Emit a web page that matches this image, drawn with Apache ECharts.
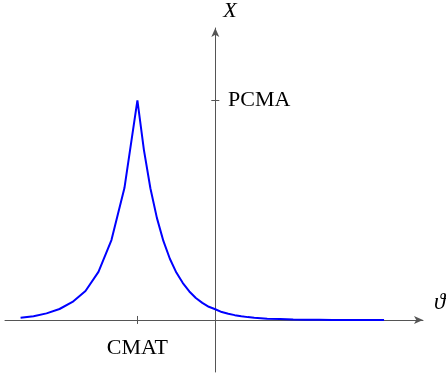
<!DOCTYPE html>
<html>
<head>
<meta charset="utf-8">
<script src="https://cdn.jsdelivr.net/npm/echarts@6/dist/echarts.min.js"></script>
<style>
  html, body { margin: 0; padding: 0; background: #fff; }
  #chart { width: 446px; height: 378px; }
</style>
</head>
<body>
<div id="chart"></div>
<script>
// Sampled curve X(θ): coarse steps on the rising flank, finer on the falling flank
const thetaLeft = [-15, -14, -13, -12, -11, -10, -9, -8, -7, -6];
const xLeft = [0.010, 0.017, 0.030, 0.050, 0.082, 0.132, 0.219, 0.364, 0.601, 1.000];

const thetaRight = [-5.5, -5, -4.5, -4, -3.5, -3, -2.5, -2, -1.5, -1, -0.5, 0, 0.5, 1, 1.5, 2, 2.5, 3,
                    4, 5, 6, 7, 8, 9, 10, 11, 12, 13];
const xRight = [0.775, 0.600, 0.465, 0.360, 0.279, 0.216, 0.168, 0.130, 0.100, 0.078, 0.060, 0.049,
                0.036, 0.028, 0.022, 0.017, 0.013, 0.010, 0.006, 0.004, 0.002, 0.001, 0.001, 0.000,
                0.000, 0.000, 0.000, 0.000];

// Marked positions on the axes and their labels
const xTickValues = [-6];
const xTickLabels = ['CMAT'];
const yTickValues = [1];
const yTickLabels = ['PCMA'];

const xRange = [-16.2, 16];
const yRange = [-0.237, 1.33];

const serif = '"Liberation Serif", "DejaVu Serif", serif';
const axisColor = '#555';

const curve = thetaLeft.map((t, i) => [t, xLeft[i]])
  .concat(thetaRight.map((t, i) => [t, xRight[i]]));

const chart = echarts.init(document.getElementById('chart'), null, { renderer: 'canvas' });

// Axes cross at the origin; tick labels are anchored at the grid edge,
// so their margins pull them back next to the zero lines.
chart.setOption({
  animation: false,
  grid: { left: 5, right: 23, top: 28, bottom: 6, containLabel: false, outerBoundsMode: 'none' },
  xAxis: [
    {
      type: 'value', position: 'bottom', min: xRange[0], max: xRange[1],
      splitLine: { show: false },
      axisLine: { onZero: true, symbol: ['none', 'arrow'], symbolSize: [6, 9],
                  lineStyle: { color: axisColor, width: 1 } },
      axisTick: { show: true, inside: false, length: 4, customValues: xTickValues,
                  lineStyle: { color: axisColor } },
      axisLabel: { show: true, customValues: xTickValues, margin: -35,
                   formatter: v => xTickLabels[xTickValues.indexOf(Number(v))] || '',
                   fontFamily: serif, fontSize: 22, color: '#000' },
      name: 'ϑ', nameLocation: 'end', nameGap: 11,
      nameTextStyle: { fontFamily: serif, fontStyle: 'italic', fontSize: 23, color: '#000',
                       verticalAlign: 'bottom', padding: [0, 0, 6, 0] }
    },
    {
      type: 'value', position: 'top', min: xRange[0], max: xRange[1],
      splitLine: { show: false },
      axisLine: { onZero: true, lineStyle: { opacity: 0 } },
      axisTick: { show: true, inside: false, length: 4, customValues: xTickValues,
                  lineStyle: { color: axisColor } },
      axisLabel: { show: false }
    }
  ],
  yAxis: [
    {
      type: 'value', position: 'left', min: yRange[0], max: yRange[1],
      splitLine: { show: false },
      axisLine: { onZero: true, symbol: ['none', 'arrow'], symbolSize: [6, 9],
                  lineStyle: { color: axisColor, width: 1 } },
      axisTick: { show: true, inside: false, length: 4, customValues: yTickValues,
                  lineStyle: { color: axisColor } },
      axisLabel: { show: false },
      name: 'X', nameLocation: 'end', nameGap: 6,
      nameTextStyle: { fontFamily: serif, fontStyle: 'italic', fontSize: 22, color: '#000',
                       align: 'left', padding: [0, 0, 0, 8] }
    },
    {
      type: 'value', position: 'right', min: yRange[0], max: yRange[1],
      splitLine: { show: false },
      axisLine: { onZero: true, lineStyle: { opacity: 0 } },
      axisTick: { show: true, inside: false, length: 4, customValues: yTickValues,
                  lineStyle: { color: axisColor } },
      axisLabel: { show: true, customValues: yTickValues, margin: -195,
                   formatter: v => yTickLabels[yTickValues.indexOf(Number(v))] || '',
                   fontFamily: serif, fontSize: 22, color: '#000' }
    }
  ],
  series: [
    {
      type: 'line', xAxisIndex: 0, yAxisIndex: 0,
      data: curve, showSymbol: false, smooth: false,
      lineStyle: { color: '#0000ff', width: 2 }
    }
  ]
});
</script>
</body>
</html>
